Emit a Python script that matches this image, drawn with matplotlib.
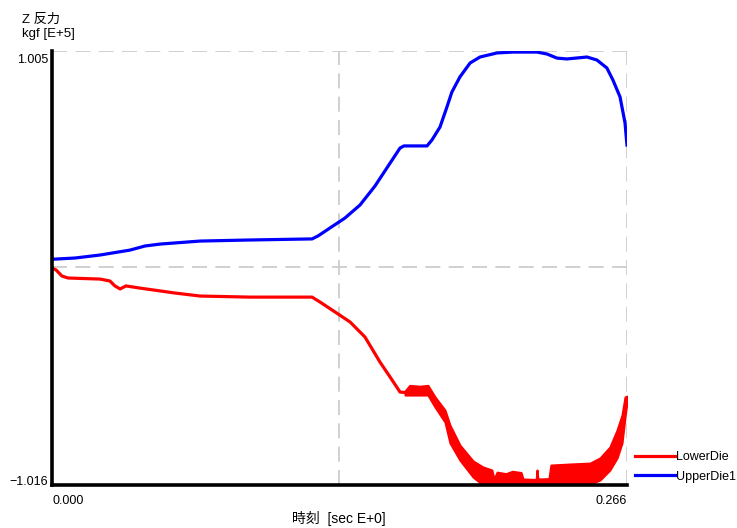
import matplotlib
matplotlib.use("Agg")
import matplotlib.pyplot as plt
from matplotlib.transforms import offset_copy
import numpy as np

plt.rcParams['font.family'] = ['Liberation Sans', 'Noto Sans CJK JP']

# Z reaction force [E+5 kgf] vs time [sec]
upper_t = [0.0, 0.0014, 0.0106, 0.0222, 0.0361, 0.0430, 0.0500, 0.0685, 0.0916,
           0.1203, 0.1231, 0.1286, 0.1355, 0.1425, 0.1494, 0.1564, 0.1610, 0.1628,
           0.1735, 0.1758, 0.1795, 0.1827, 0.1850, 0.1887, 0.1934, 0.1980, 0.2059,
           0.2133, 0.2244, 0.2290, 0.2336, 0.2382, 0.2475, 0.2521, 0.2567, 0.2595,
           0.2628, 0.2651, 0.2660]
upper_f = [0.036, 0.036, 0.041, 0.055, 0.078, 0.097, 0.106, 0.120, 0.125,
           0.130, 0.144, 0.181, 0.227, 0.288, 0.376, 0.483, 0.553, 0.563,
           0.563, 0.591, 0.651, 0.744, 0.814, 0.884, 0.949, 0.977, 0.996,
           1.000, 1.000, 0.991, 0.972, 0.968, 0.977, 0.963, 0.926, 0.870,
           0.791, 0.670, 0.567]

lower_t = [0.0, 0.0019, 0.0046, 0.0074, 0.0222, 0.0268, 0.0291, 0.0315, 0.0342,
           0.0407, 0.0569, 0.0685, 0.0916, 0.1203, 0.1240, 0.1309, 0.1379, 0.1448,
           0.1517, 0.1564, 0.1610, 0.1640]
lower_f = [-0.005, -0.015, -0.043, -0.052, -0.057, -0.066, -0.089, -0.103, -0.089,
           -0.099, -0.122, -0.136, -0.141, -0.141, -0.164, -0.210, -0.257, -0.327,
           -0.443, -0.513, -0.583, -0.586]

# oscillating part of the lower die force: envelope
band_t = [0.1633, 0.1655, 0.1700, 0.1739, 0.1772, 0.1818, 0.1841, 0.1887, 0.1948,
          0.1994, 0.2035, 0.2045, 0.2059, 0.2100, 0.2130, 0.2170, 0.2179, 0.2240,
          0.2244, 0.2248, 0.2253, 0.2299, 0.2308, 0.2400, 0.2489, 0.2535, 0.2581,
          0.2614, 0.2637, 0.2651, 0.2660]
band_hi = [-0.578, -0.552, -0.556, -0.552, -0.606, -0.667, -0.737, -0.830, -0.904,
           -0.932, -0.946, -0.988, -0.956, -0.963, -0.952, -0.958, -0.988, -0.990,
           -0.946, -0.990, -0.988, -0.986, -0.923, -0.918, -0.914, -0.890, -0.839,
           -0.760, -0.690, -0.606, -0.602]
band_lo = [-0.597, -0.597, -0.597, -0.597, -0.653, -0.723, -0.820, -0.900, -0.979,
           -1.016, -1.016, -1.016, -1.016, -1.016, -1.016, -1.016, -1.016, -1.016,
           -1.016, -1.016, -1.016, -1.016, -1.016, -1.016, -1.011, -0.993, -0.946,
           -0.890, -0.820, -0.699, -0.630]

x_min, x_max = 0.0, 0.266
y_min, y_max = -1.016, 1.005
y_labels = ['\u22121.016', '1.005']
x_labels = ['0.000', '0.266']

fig = plt.figure(figsize=(7.37, 5.28), dpi=100)
ax = fig.add_axes([0.0706, 0.0814, 0.7801, 0.822])

grid_kw = dict(color='#c8c8c8', lw=1.2, dashes=(9, 5), zorder=1)
ax.axhline(0.0, **grid_kw)
ax.axhline(y_max, **grid_kw)
ax.axvline((x_min + x_max) / 2, **grid_kw)
ax.axvline(x_max, **grid_kw)

ax.plot(lower_t, lower_f, color='#ff0000', lw=2.3, label='LowerDie', zorder=3,
        solid_joinstyle='round')
ax.fill_between(band_t, band_lo, band_hi, color='#ff0000', lw=1.5,
                edgecolor='#ff0000', zorder=3)
ax.plot(upper_t, upper_f, color='#0000ff', lw=2.3, label='UpperDie1', zorder=3,
        solid_joinstyle='round')

ax.set_xlim(x_min, x_max)
ax.set_ylim(y_min, y_max)
for s in ['top', 'right']:
    ax.spines[s].set_visible(False)
for s in ['left', 'bottom']:
    ax.spines[s].set_linewidth(2.6)
    ax.spines[s].set_color('black')
    ax.spines[s].set_zorder(4)

# y limits labelled just inside the ends of the axis
ax.set_yticks([])
ytrans = ax.get_yaxis_transform()
ax.text(0, y_max, y_labels[1], fontsize=9, ha='right', va='top',
        transform=offset_copy(ytrans, fig=fig, x=-3, y=-2, units='points'))
ax.text(0, y_min, y_labels[0], fontsize=9, ha='right', va='bottom',
        transform=offset_copy(ytrans, fig=fig, x=-3, y=-2, units='points'))

ax.set_xticks([x_min, x_max])
ax.set_xticklabels(x_labels, fontsize=9)
xt = ax.get_xticklabels()
xt[0].set_ha('left')
xt[1].set_ha('right')
ax.tick_params(axis='x', length=0, pad=7)

fig.text(22 / 737, 1 - 20 / 528, 'Z 反力', fontsize=9.5, va='center', ha='left')
fig.text(22 / 737, 1 - 34 / 528, 'kgf [E+5]', fontsize=9.5, va='center', ha='left')
fig.text(339 / 737, 1 - 518 / 528, '時刻  [sec E+0]', fontsize=10, va='center', ha='center')

ax.legend(loc='lower left', bbox_to_anchor=(1.005, -0.006), frameon=False, fontsize=9,
          handlelength=3.2, handletextpad=0.1, borderaxespad=0, labelspacing=0.6)

fig.savefig('out.png', dpi=100)
